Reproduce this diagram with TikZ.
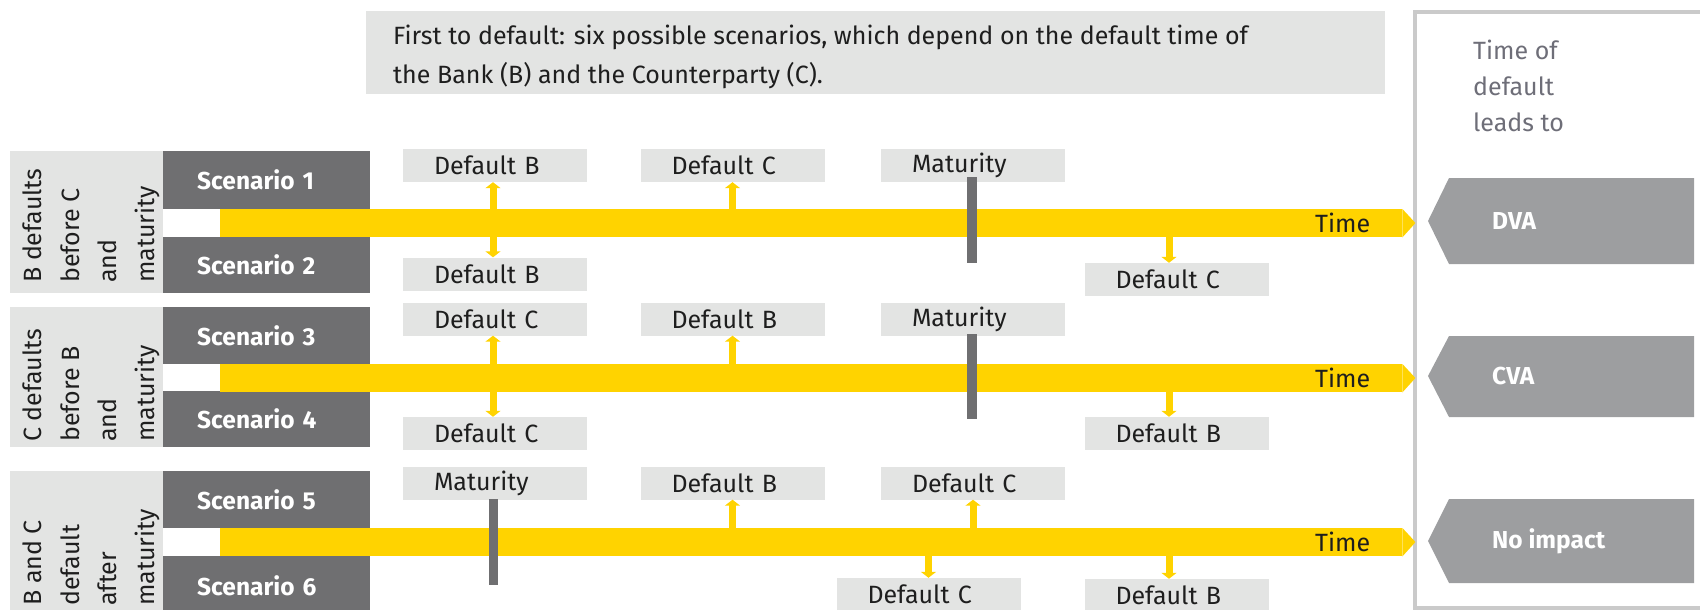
\documentclass[tikz,border=0pt]{standalone}
\usepackage{fontspec}
\setmainfont{Fira Sans}
\usetikzlibrary{arrows.meta,calc}
\definecolor{eyyellow}{HTML}{FFD300}
\definecolor{scengrey}{HTML}{6F6F71}
\definecolor{lgrey}{HTML}{E3E4E3}
\definecolor{pentgrey}{HTML}{9D9EA0}
\definecolor{framegrey}{HTML}{CACACA}
\definecolor{midgrey}{HTML}{6E6E78}
\definecolor{darktext}{HTML}{1E1E1E}
\begin{document}
\begin{tikzpicture}[x=1pt,y=-1pt,
  lbl/.style={fill=lgrey, minimum width=184pt, minimum height=33pt, inner ysep=0pt, inner xsep=31pt,
    text width=122pt, align=left, font=\fontsize{25}{28}\selectfont, text=darktext},
  scen/.style={fill=scengrey, anchor=north west, minimum width=207pt, inner xsep=34pt, inner ysep=0pt,
    text width=139pt, align=left, font=\fontsize{24.5}{28}\selectfont\bfseries, text=white},
  panel/.style={fill=lgrey, anchor=north west, minimum width=153pt, inner sep=0pt},
  vtext/.style={rotate=90, anchor=north west, align=left, inner sep=0pt,
    font=\fontsize{25}{37.5}\selectfont, text=darktext},
  band/.style={fill=eyyellow, anchor=north west, minimum width=1182pt, minimum height=28pt, inner sep=0pt},
  tip/.style={fill=eyyellow},
  timelbl/.style={anchor=west, inner sep=0pt, font=\fontsize{25}{28}\selectfont, text=darktext},
  yarr/.style={draw=eyyellow, line width=7pt, -{Triangle[width=15pt,length=6pt]}},
  matbar/.style={fill=scengrey},
  pent/.style={fill=pentgrey},
  penttext/.style={anchor=west, inner sep=0pt, font=\fontsize{24.5}{28}\selectfont\bfseries, text=white}
]
\useasboundingbox (0,0) rectangle (1700,610);

% title box
\node[fill=lgrey, anchor=north west, minimum width=1019pt, minimum height=83pt, inner sep=0pt] (title) at (366,11) {};
\node[anchor=north west, align=left, inner sep=0pt, font=\fontsize{25}{39}\selectfont, text=darktext] (titletext) at (393,25)
  {First to default: six possible scenarios, which depend on the default time of\\the Bank (B) and the Counterparty (C).};

% right frame
\draw[framegrey, line width=4pt] (1415,12) rectangle (1720,608);
\node[anchor=north west, align=left, inner sep=0pt, font=\fontsize{25}{36}\selectfont, text=midgrey] (leads) at (1473,40)
  {Time of\\default\\leads to};

% ---------------- Row 1 ----------------
\node[panel, minimum height=142pt] (p1) at (10,151) {};
\node[vtext] (v1) at (23,283) {B defaults\\before C\\and\\maturity};
\node[scen, minimum height=58pt] (s1) at (163,151) {Scenario 1};
\node[scen, minimum height=56pt] (s2) at (163,237) {Scenario 2};
\node[band] (b1) at (220,209) {};
\fill[tip] (b1.north east) -- ++(13,14) -- (b1.south east) -- cycle;
\node[timelbl] (t1) at (1315,223) {Time};

\node[lbl] (r1a) at (495,165.5) {Default B};
\node[lbl] (r1b) at (732.5,165.5) {Default C};
\node[lbl] (r1c) at (973,165.5) {Maturity};
\node[lbl] (r1ab) at (495,274) {Default B};
\node[lbl] (r1db) at (1176.5,279.5) {Default C};
\fill[matbar] (967,177) rectangle (977,263);
\coordinate (a1) at ([xshift=-2pt]r1a.south);
\coordinate (a1b) at ([xshift=-2pt]r1ab.north);
\draw[yarr] (a1 |- b1.north) -- (a1);
\draw[yarr] (a1b |- b1.south) -- (a1b);
\draw[yarr] (r1b.south |- b1.north) -- (r1b.south);
\coordinate (d1) at ([xshift=-7.5pt]r1db.north);
\draw[yarr] (d1 |- b1.south) -- (d1);

% ---------------- Row 2 ----------------
\node[panel, minimum height=140pt] (p2) at (10,307) {};
\node[vtext] (v2) at (23,442) {C defaults\\before B\\and\\maturity};
\node[scen, minimum height=57pt] (s3) at (163,307) {Scenario 3};
\node[scen, minimum height=56pt] (s4) at (163,391) {Scenario 4};
\node[band] (b2) at (220,364) {};
\fill[tip] (b2.north east) -- ++(13,14) -- (b2.south east) -- cycle;
\node[timelbl] (t2) at (1315,378) {Time};

\node[lbl] (r2a) at (495,319) {Default C};
\node[lbl] (r2b) at (732.5,319) {Default B};
\node[lbl] (r2c) at (973,319) {Maturity};
\node[lbl] (r2ab) at (495,433.5) {Default C};
\node[lbl] (r2db) at (1176.5,433.5) {Default B};
\fill[matbar] (967,334) rectangle (977,419);
\coordinate (a2) at ([xshift=-2pt]r2a.south);
\coordinate (a2b) at ([xshift=-2pt]r2ab.north);
\draw[yarr] (a2 |- b2.north) -- (a2);
\draw[yarr] (a2b |- b2.south) -- (a2b);
\draw[yarr] (r2b.south |- b2.north) -- (r2b.south);
\coordinate (d2) at ([xshift=-7.5pt]r2db.north);
\draw[yarr] (d2 |- b2.south) -- (d2);

% ---------------- Row 3 ----------------
\node[panel, minimum height=145pt] (p3) at (10,471) {};
\node[vtext] (v3) at (23,606) {B and C\\default\\after\\maturity};
\node[scen, minimum height=57pt] (s5) at (163,471) {Scenario 5};
\node[scen, minimum height=60pt] (s6) at (163,556) {Scenario 6};
\node[band] (b3) at (220,528) {};
\fill[tip] (b3.north east) -- ++(13,14) -- (b3.south east) -- cycle;
\node[timelbl] (t3) at (1315,542) {Time};

\node[lbl] (r3a) at (495,483) {Maturity};
\node[lbl] (r3b) at (732.5,483) {Default B};
\node[lbl] (r3c) at (973,483) {Default C};
\node[lbl] (r3eb) at (928.5,594.5) {Default C};
\node[lbl] (r3db) at (1176.5,595.5) {Default B};
\fill[matbar] (489,499) rectangle (498,585);
\draw[yarr] (r3b.south |- b3.north) -- (r3b.south);
\draw[yarr] (r3c.south |- b3.north) -- (r3c.south);
\draw[yarr] (r3eb.north |- b3.south) -- (r3eb.north);
\coordinate (d3) at ([xshift=-7.5pt]r3db.north);
\draw[yarr] (d3 |- b3.south) -- (d3);

% ---------------- outcome arrows ----------------
\fill[pent] (1428,221) -- (1449,178) -- (1694,178) -- (1694,264) -- (1449,264) -- cycle;
\node[penttext] (dva) at (1492,221) {DVA};
\fill[pent] (1428,376) -- (1449,336) -- (1694,336) -- (1694,417) -- (1449,417) -- cycle;
\node[penttext] (cva) at (1492,376) {CVA};
\fill[pent] (1428,541) -- (1449,499) -- (1694,499) -- (1694,583) -- (1449,583) -- cycle;
\node[penttext] (noimp) at (1492,541) {No impact};
\end{tikzpicture}
\end{document}
